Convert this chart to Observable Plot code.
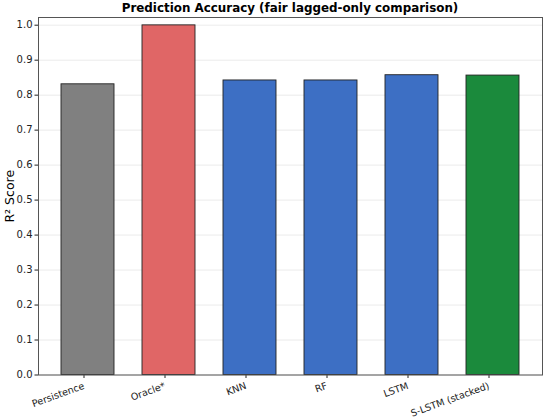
<!DOCTYPE html>
<html>
<head>
<meta charset="utf-8">
<script src="https://cdn.jsdelivr.net/npm/d3@7"></script>
<script src="https://cdn.jsdelivr.net/npm/@observablehq/plot@0.6"></script>
<style>
  body { margin: 0; background: #fff; font-family: "DejaVu Sans", sans-serif; }
  #title { height: 14px; width: 550px; box-sizing: border-box; padding-left: 38px; padding-right: 8px;
           text-align: center; font-weight: bold; font-size: 11.9px; line-height: 17px; color: #000; }
</style>
</head>
<body>
<div id="title">Prediction Accuracy (fair lagged-only comparison)</div>
<div id="chart"></div>
<script>
const models = ["Persistence", "Oracle*", "KNN", "RF", "LSTM", "S-LSTM (stacked)"];
const r2 = [0.831, 0.9995, 0.842, 0.842, 0.857, 0.856];
const barColors = ["#808080", "#e06666", "#3d6fc4", "#3d6fc4", "#3d6fc4", "#1b8a3c"];
const yTicks = [0.0, 0.1, 0.2, 0.3, 0.4, 0.5, 0.6, 0.7, 0.8, 0.9, 1.0];

const data = models.map((m, i) => ({model: m, r2: r2[i], color: barColors[i]}));

const chart = Plot.plot({
  width: 550,
  height: 404,
  marginTop: 3,
  marginLeft: 38,
  marginRight: 8,
  marginBottom: 43.5,
  style: {fontFamily: "DejaVu Sans, sans-serif", fontSize: "10px", color: "#222", background: "#fff"},
  x: {domain: models, paddingInner: 0.35, paddingOuter: 0.284, label: null},
  y: {domain: [0, 1.022], label: null},
  marks: [
    Plot.gridY(yTicks, {stroke: "#c8c8c8", strokeOpacity: 0.45, strokeWidth: 0.8}),
    Plot.barY(data, {x: "model", y: "r2", fill: "color", stroke: "#222", strokeWidth: 0.9}),
    Plot.axisY(yTicks, {tickSize: 3.5, tickPadding: 2.5, tickFormat: d3.format(".1f"), label: null, fontSize: 10}),
    Plot.axisY({ticks: [], tickSize: 0, label: "R² Score", labelAnchor: "center", labelArrow: "none", labelOffset: 33, fontSize: 12.5, color: "#000"}),
    Plot.axisX({tickSize: 3.5, tickPadding: 7, dx: -4, tickRotate: -20, label: null, fontSize: 9.6}),
    Plot.frame({stroke: "#555", strokeWidth: 1})
  ]
});
document.getElementById("chart").append(chart);
</script>
</body>
</html>
